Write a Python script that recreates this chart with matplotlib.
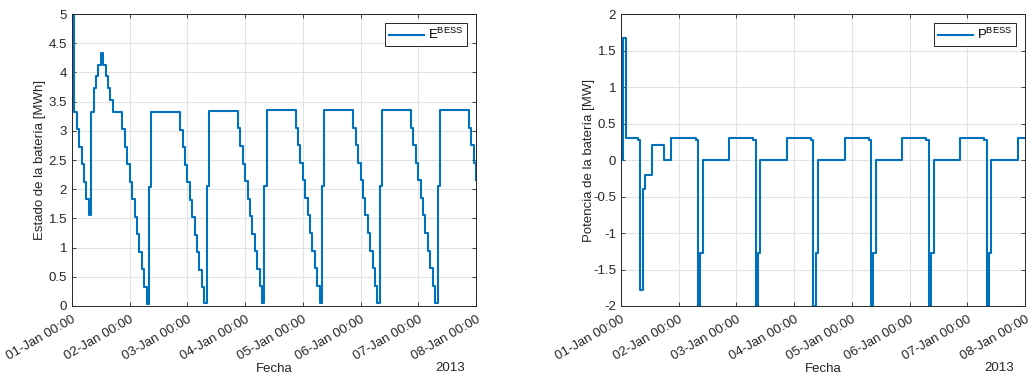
import matplotlib
matplotlib.use("Agg")
import matplotlib.pyplot as plt
import matplotlib.dates as mdates
from matplotlib.ticker import FuncFormatter, MultipleLocator
import pandas as pd

# hourly samples, 01-Jan-2013 00:00 .. 08-Jan-2013 00:00
hours = pd.date_range("2013-01-01 00:00", periods=169, freq="h")

# battery state of energy [MWh], one row per day
e_mwh = [
    5.00, 3.33, 3.03, 2.73, 2.43, 2.13, 1.83, 1.55, 3.33, 3.73, 3.93, 4.13, 4.33, 4.13, 3.93, 3.73, 3.53, 3.33, 3.33, 3.33, 3.33, 3.03, 2.73, 2.43,
    2.13, 1.83, 1.53, 1.23, 0.93, 0.63, 0.33, 0.04, 2.04, 3.32, 3.32, 3.32, 3.32, 3.32, 3.32, 3.32, 3.32, 3.32, 3.32, 3.32, 3.32, 3.02, 2.72, 2.42,
    2.12, 1.82, 1.52, 1.22, 0.92, 0.62, 0.32, 0.05, 2.05, 3.34, 3.34, 3.34, 3.34, 3.34, 3.34, 3.34, 3.34, 3.34, 3.34, 3.34, 3.34, 3.04, 2.74, 2.44,
    2.14, 1.84, 1.54, 1.24, 0.94, 0.64, 0.34, 0.05, 2.05, 3.35, 3.35, 3.35, 3.35, 3.35, 3.35, 3.35, 3.35, 3.35, 3.35, 3.35, 3.35, 3.05, 2.75, 2.45,
    2.15, 1.85, 1.55, 1.25, 0.95, 0.65, 0.35, 0.05, 2.05, 3.35, 3.35, 3.35, 3.35, 3.35, 3.35, 3.35, 3.35, 3.35, 3.35, 3.35, 3.35, 3.05, 2.75, 2.45,
    2.15, 1.85, 1.55, 1.25, 0.95, 0.65, 0.35, 0.05, 2.05, 3.35, 3.35, 3.35, 3.35, 3.35, 3.35, 3.35, 3.35, 3.35, 3.35, 3.35, 3.35, 3.05, 2.75, 2.45,
    2.15, 1.85, 1.55, 1.25, 0.95, 0.65, 0.35, 0.05, 2.05, 3.35, 3.35, 3.35, 3.35, 3.35, 3.35, 3.35, 3.35, 3.35, 3.35, 3.35, 3.35, 3.05, 2.75, 2.45,
    2.15,
]

# battery power [MW] (positive = discharge)
p_mw = [
    0.00, 1.67, 0.30, 0.30, 0.30, 0.30, 0.30, 0.27, -1.78, -0.40, -0.20, -0.20, -0.20, 0.20, 0.20, 0.20, 0.20, 0.20, 0.00, 0.00, 0.00, 0.30, 0.30, 0.30,
    0.30, 0.30, 0.30, 0.30, 0.30, 0.30, 0.30, 0.27, -2.00, -1.28, 0.00, 0.00, 0.00, 0.00, 0.00, 0.00, 0.00, 0.00, 0.00, 0.00, 0.00, 0.30, 0.30, 0.30,
    0.30, 0.30, 0.30, 0.30, 0.30, 0.30, 0.30, 0.27, -2.00, -1.28, 0.00, 0.00, 0.00, 0.00, 0.00, 0.00, 0.00, 0.00, 0.00, 0.00, 0.00, 0.30, 0.30, 0.30,
    0.30, 0.30, 0.30, 0.30, 0.30, 0.30, 0.30, 0.27, -2.00, -1.28, 0.00, 0.00, 0.00, 0.00, 0.00, 0.00, 0.00, 0.00, 0.00, 0.00, 0.00, 0.30, 0.30, 0.30,
    0.30, 0.30, 0.30, 0.30, 0.30, 0.30, 0.30, 0.27, -2.00, -1.28, 0.00, 0.00, 0.00, 0.00, 0.00, 0.00, 0.00, 0.00, 0.00, 0.00, 0.00, 0.30, 0.30, 0.30,
    0.30, 0.30, 0.30, 0.30, 0.30, 0.30, 0.30, 0.27, -2.00, -1.28, 0.00, 0.00, 0.00, 0.00, 0.00, 0.00, 0.00, 0.00, 0.00, 0.00, 0.00, 0.30, 0.30, 0.30,
    0.30, 0.30, 0.30, 0.30, 0.30, 0.30, 0.30, 0.27, -2.00, -1.28, 0.00, 0.00, 0.00, 0.00, 0.00, 0.00, 0.00, 0.00, 0.00, 0.00, 0.00, 0.30, 0.30, 0.30,
    0.30,
]

plt.rcParams["font.family"] = ["Liberation Sans", "DejaVu Sans"]
plt.rcParams["font.size"] = 9.5
plt.rcParams["axes.unicode_minus"] = False

BLUE = "#0072BD"
DARK = "#262626"

fig = plt.figure(figsize=(10.32, 3.79), dpi=100)
ax_e = fig.add_axes([72 / 1032, 73 / 379, 404 / 1032, 292 / 379])
ax_p = fig.add_axes([621 / 1032, 73 / 379, 404 / 1032, 292 / 379])


def matlab_style(ax, ylo, yhi, ylabel, legend_label):
    ax.set_xlim(hours[0], hours[-1])
    ax.set_ylim(ylo, yhi)
    ax.yaxis.set_major_locator(MultipleLocator(0.5))
    ax.yaxis.set_major_formatter(FuncFormatter(lambda v, pos: f"{v:g}"))
    ax.xaxis.set_major_locator(mdates.DayLocator())
    ax.xaxis.set_major_formatter(mdates.DateFormatter("%d-%b %H:%M"))
    ax.grid(True, color="#e3e3e3", linewidth=0.8)
    ax.set_axisbelow(True)
    ax.tick_params(direction="in", length=3, width=0.6, colors=DARK,
                   top=True, right=True, labelsize=9.5)
    ax.tick_params(axis="x", pad=5.5)
    for s in ax.spines.values():
        s.set_color(DARK)
        s.set_linewidth(0.7)
    for lbl in ax.get_xticklabels():
        lbl.set_rotation(30)
        lbl.set_ha("right")
        lbl.set_rotation_mode("anchor")
    ax.set_xlabel("Fecha", color=DARK)
    ax.xaxis.set_label_coords(0.5, -0.195)
    ax.set_ylabel(ylabel, color=DARK)
    ax.yaxis.set_label_coords(-0.065, 0.5)
    ax.annotate("2013", xy=(1, 0), xycoords="axes fraction", xytext=(-11, -62),
                textcoords="offset pixels", ha="right", va="center", color=DARK)
    leg = ax.legend([legend_label], loc="upper right", fancybox=False,
                    framealpha=1, edgecolor=DARK, handlelength=2.7,
                    handletextpad=0.25, borderpad=0.3, borderaxespad=0.7)
    leg.get_frame().set_linewidth(0.7)


ax_e.step(hours, e_mwh, where="post", color=BLUE, linewidth=1.5)
matlab_style(ax_e, 0, 5, "Estado de la batería [MWh]", r"E$\mathregular{^{BESS}}$")

ax_p.step(hours, p_mw, where="post", color=BLUE, linewidth=1.5)
matlab_style(ax_p, -2, 2, "Potencia de la batería [MW]", r"P$\mathregular{^{BESS}}$")

fig.savefig("out.png", dpi=100)
